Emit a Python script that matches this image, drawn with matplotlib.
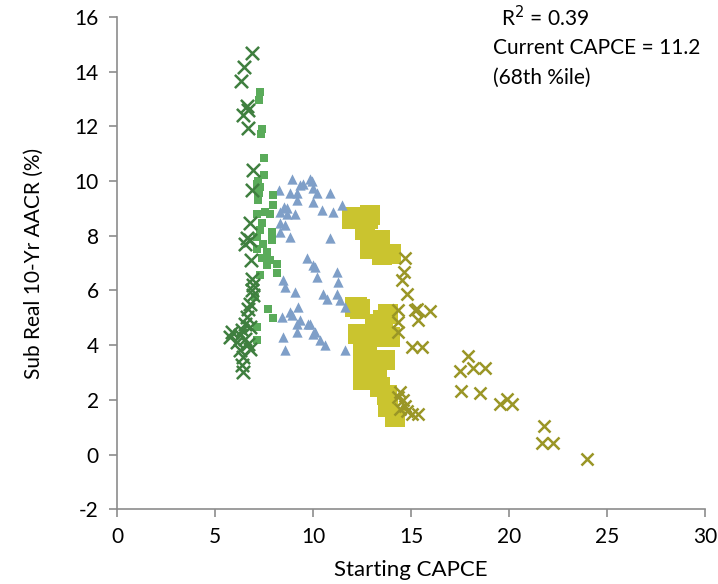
import matplotlib.pyplot as plt

# starting CAPCE vs subsequent real 10-yr annualised return, one list pair per group
dkgreen_x = [6.87, 6.49, 6.31, 6.62, 6.44, 6.68, 6.70, 6.95, 6.87, 6.79, 6.62, 6.79, 6.53,
             6.82, 6.87, 6.95, 6.87, 6.95, 6.79, 6.70, 6.62, 6.53, 6.79, 6.36, 5.85, 5.77,
             6.28, 6.53, 6.11, 6.70, 6.28, 6.79, 6.44, 6.36, 6.44]
dkgreen_y = [14.67, 14.18, 13.66, 12.74, 12.41, 12.60, 11.93, 10.40, 9.67, 8.45, 7.90, 7.84, 7.71,
             7.10, 6.43, 6.19, 6.00, 5.82, 5.52, 5.33, 5.03, 4.79, 4.66, 4.54, 4.48, 4.30,
             4.36, 4.24, 4.11, 4.05, 3.81, 3.87, 3.56, 3.26, 3.01]

green_x = [7.30, 7.26, 7.40, 7.37, 7.51, 7.52, 7.17, 7.30, 7.26, 7.97, 7.13, 7.21, 7.97, 7.21,
           7.97, 7.55, 7.13, 7.81, 7.38, 7.30, 7.89, 7.13, 7.89, 7.46, 7.13, 7.64, 7.38, 7.81,
           8.15, 7.64, 8.15, 7.30, 7.04, 7.72, 7.97, 7.13, 7.13]
green_y = [13.24, 12.97, 11.91, 11.73, 10.84, 10.23, 10.01, 9.79, 9.55, 9.48, 9.91, 9.60, 9.48, 9.30,
           9.12, 8.87, 8.81, 8.81, 8.45, 8.20, 8.14, 7.96, 7.84, 7.71, 7.53, 7.41, 7.17, 7.10,
           6.98, 6.92, 6.64, 6.58, 5.76, 5.33, 5.00, 4.66, 4.17]

blue_x = [8.28, 8.83, 9.17, 8.32, 8.66, 9.08, 8.32, 8.57, 8.32, 8.83, 9.68, 10.10, 8.49, 8.57,
          9.08, 9.25, 8.83, 8.40, 9.34, 9.76, 8.49, 9.17, 8.57, 10.10, 8.91, 9.85, 9.34, 10.00,
          10.19, 10.87, 9.17, 10.00, 11.46, 10.44, 11.04, 8.66, 10.87, 10.00, 10.19, 11.21,
          11.29, 10.53, 11.21, 10.70, 11.38, 8.91, 9.17, 9.85, 10.02, 10.36, 10.61, 11.63, 11.63,
          8.53, 9.50, 9.96]
blue_y = [9.67, 9.55, 9.55, 8.87, 8.81, 8.81, 8.45, 8.39, 8.14, 7.96, 7.17, 6.86, 6.37, 6.13,
          5.94, 5.39, 5.21, 5.03, 4.91, 4.79, 4.30, 4.48, 3.81, 4.48, 10.06, 10.09, 9.85, 9.73,
          9.55, 9.55, 9.30, 9.24, 9.12, 8.93, 8.87, 9.00, 7.90, 6.92, 6.49, 6.68,
          6.31, 5.88, 5.88, 5.70, 5.64, 5.09, 4.79, 4.79, 4.42, 4.17, 3.99, 3.81, 5.39,
          9.05, 9.90, 10.00]

yellow_x = [11.97, 12.91, 12.65, 13.42, 12.91, 13.50, 13.99, 12.14, 12.40, 13.84, 13.16, 13.59,
            12.48, 13.93, 13.25, 12.57, 12.74, 13.67, 12.57, 12.91, 12.57, 13.25, 13.42, 13.76,
            13.84, 14.18, 12.14, 12.82, 12.91, 12.23, 12.31, 12.74]
yellow_y = [8.63, 8.75, 8.20, 7.84, 7.59, 7.29, 7.35, 5.39, 5.33, 5.15, 4.79, 4.91,
            4.42, 4.30, 4.30, 3.99, 3.87, 3.44, 3.26, 3.14, 2.71, 2.83, 2.46, 2.16,
            1.73, 1.37, 8.69, 8.63, 7.53, 5.39, 4.42, 3.93]

olive_x = [14.69, 14.64, 14.52, 14.78, 14.35, 15.20, 15.97, 15.37, 14.35, 14.35, 15.04, 15.55,
           17.93, 17.50, 18.18, 18.78, 17.55, 18.52, 19.54, 19.88, 20.14, 21.80, 21.67, 22.26,
           23.98, 14.44, 14.35, 14.44, 14.78, 15.04, 15.37, 14.69, 14.60, 15.29]
olive_y = [7.20, 6.68, 6.37, 5.86, 5.27, 5.27, 5.25, 4.93, 4.85, 4.48, 3.95, 3.95,
           3.59, 3.05, 3.17, 3.16, 2.34, 2.25, 1.86, 2.04, 1.86, 1.06, 0.43, 0.43,
           -0.18, 2.28, 2.10, 1.67, 1.61, 1.49, 1.49, 1.79, 1.98, 5.33]

plt.rcParams['font.family'] = ['Lato', 'DejaVu Sans']
plt.rcParams['axes.unicode_minus'] = False

fig = plt.figure(figsize=(7.18, 5.84), dpi=100)
ax = fig.add_axes([0.163, 0.128, 0.819, 0.843])

ax.scatter(yellow_x, yellow_y, marker='s', s=190, color='#cac42f', linewidths=0, zorder=2)
ax.scatter(blue_x, blue_y, marker='^', s=55, color='#7f9fc8', linewidths=0, zorder=3)
ax.scatter(green_x, green_y, marker='s', s=28, color='#5aab5a', linewidths=0, zorder=3)
ax.scatter(dkgreen_x, dkgreen_y, marker='x', s=90, color='#3f7f3f', linewidths=1.8, zorder=4)
ax.scatter(olive_x, olive_y, marker='x', s=75, color='#9a9626', linewidths=1.8, zorder=4)

ax.set_xlim(0, 30)
ax.set_ylim(-2, 16)
ax.set_xticks(range(0, 31, 5))
ax.set_yticks(range(-2, 17, 2))
ax.spines['top'].set_visible(False)
ax.spines['right'].set_visible(False)
for sp in ('left', 'bottom'):
    ax.spines[sp].set_color('#8c8c8c')
    ax.spines[sp].set_linewidth(1.2)
ax.tick_params(axis='both', color='#8c8c8c', length=6, width=1.2, labelsize=15, pad=7)
ax.set_xlabel('Starting CAPCE', fontsize=16, labelpad=9)
ax.set_ylabel('Sub Real 10-Yr AACR (%)', fontsize=15, labelpad=22)

ax.text(0.645, 0.998, r' R$^2$ = 0.39', transform=ax.transAxes, fontsize=15, va='center')
ax.text(0.64, 0.937, 'Current CAPCE = 11.2', transform=ax.transAxes, fontsize=15, va='center')
ax.text(0.64, 0.876, '(68th %ile)', transform=ax.transAxes, fontsize=15, va='center')

fig.savefig('out.png', dpi=100)
